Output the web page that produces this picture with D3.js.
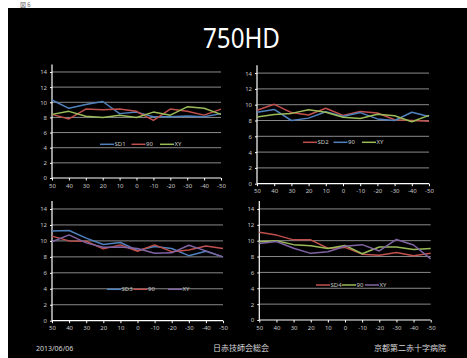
<!DOCTYPE html>
<html>
<head>
<meta charset="utf-8">
<script src="https://cdn.jsdelivr.net/npm/d3@7/dist/d3.min.js"></script>
<style>
  html, body { margin: 0; padding: 0; background: #fff; }
  svg { display: block; }
</style>
</head>
<body>
<svg id="chart" width="467" height="358"></svg>
<script>
// Shared category axis: angle positions from 50 down to -50
const categories = ["50", "40", "30", "20", "10", "0", "-10", "-20", "-30", "-40", "-50"];
const yTicks = [0, 2, 4, 6, 8, 10, 12, 14];

// Panel 1
const sd1 = [10.3, 9.2, 9.7, 10.1, 8.5, 8.7, 8.1, 8.1, 8.2, 8.1, 8.5];
const sd1_90 = [8.4, 7.8, 9.1, 9.0, 9.1, 8.8, 7.6, 9.1, 8.8, 8.3, 9.1];
const sd1_xy = [8.4, 8.8, 8.15, 8.0, 8.3, 8.0, 8.7, 8.3, 9.4, 9.2, 8.4];

// Panel 2
const sd2 = [9.3, 10.05, 9.0, 8.7, 9.55, 8.65, 9.15, 8.95, 8.1, 8.0, 7.9];
const sd2_90 = [9.05, 9.4, 8.0, 8.3, 9.1, 8.5, 9.0, 8.2, 8.0, 9.05, 8.5];
const sd2_xy = [8.45, 8.75, 8.9, 9.35, 9.05, 8.4, 8.25, 8.8, 8.6, 7.85, 8.65];

// Panel 3
const sd3 = [11.25, 11.3, 10.35, 9.55, 9.8, 8.8, 9.3, 9.05, 8.15, 8.7, 8.0];
const sd3_90 = [10.6, 10.0, 9.95, 9.0, 9.5, 8.7, 9.5, 8.65, 8.85, 9.35, 9.05];
const sd3_xy = [9.9, 10.75, 9.75, 9.2, 9.25, 9.05, 8.45, 8.5, 9.45, 8.75, 8.0];

// Panel 4
const sd4 = [11.05, 10.7, 10.1, 10.1, 9.05, 9.15, 8.3, 8.15, 8.5, 8.1, 8.4];
const sd4_90 = [9.85, 10.0, 9.5, 9.35, 9.0, 9.4, 8.35, 9.2, 9.2, 8.9, 9.0];
const sd4_xy = [9.65, 9.9, 9.05, 8.4, 8.6, 9.3, 9.5, 8.7, 10.15, 9.45, 7.7];

const titleText = "750HD";
const captionText = "図 6";
const footerLeft = "2013/06/06";
const footerCenter = "日赤技師会総会";
const footerRight = "京都第二赤十字病院";

const BLUE = "#4f81bd", RED = "#c0504d", GREEN = "#9bbb59", PURPLE = "#8064a2";

const panels = [
  { box: { left: 52, right: 221, top: 64.4, bottom: 178 }, legendY: 144.3, legendX: [100, 131.5, 160],
    series: [ { name: "SD1", values: sd1, color: BLUE }, { name: "90", values: sd1_90, color: RED }, { name: "XY", values: sd1_xy, color: GREEN } ] },
  { box: { left: 257, right: 429, top: 65.2, bottom: 183.7 }, legendY: 142.3, legendX: [303, 333.5, 362],
    series: [ { name: "SD2", values: sd2, color: RED }, { name: "90", values: sd2_90, color: BLUE }, { name: "XY", values: sd2_xy, color: GREEN } ] },
  { box: { left: 52, right: 223, top: 201, bottom: 320.7 }, legendY: 289.3, legendX: [107, 133.5, 168],
    series: [ { name: "SD3", values: sd3, color: BLUE }, { name: "90", values: sd3_90, color: RED }, { name: "XY", values: sd3_xy, color: PURPLE } ] },
  { box: { left: 259.3, right: 430.7, top: 201, bottom: 320 }, legendY: 285, legendX: [316, 342, 365],
    series: [ { name: "SD4", values: sd4, color: RED }, { name: "90", values: sd4_90, color: GREEN }, { name: "XY", values: sd4_xy, color: PURPLE } ] }
];

const svg = d3.select("#chart");

// slide background
svg.append("rect").attr("x", 8).attr("y", 8).attr("width", 459).attr("height", 350).attr("fill", "#000");

// figure caption in the white strip above the slide
svg.append("text").attr("x", 20).attr("y", 7.2)
  .attr("font-family", "Noto Sans CJK JP").attr("font-size", 6).attr("fill", "#666")
  .text(captionText);

// slide title
svg.append("text").attr("x", 241.5).attr("y", 48)
  .attr("text-anchor", "middle")
  .attr("font-family", "Noto Sans, Open Sans, sans-serif").attr("font-size", 27)
  .attr("textLength", 77).attr("lengthAdjust", "spacingAndGlyphs")
  .attr("fill", "#fff").text(titleText);

const LABEL = "#c8c8c8";
const FONT = "Noto Sans, DejaVu Sans, sans-serif";

panels.forEach(p => {
  const b = p.box;
  const x = d3.scalePoint().domain(categories).range([b.left, b.right]);
  const y = d3.scaleLinear().domain([0, 15]).range([b.bottom, b.top]);
  const g = svg.append("g");

  // horizontal gridlines
  g.selectAll("line.grid").data(yTicks.filter(t => t > 0)).join("line")
    .attr("x1", b.left).attr("x2", b.right)
    .attr("y1", d => y(d)).attr("y2", d => y(d))
    .attr("stroke", "#8a8a8a").attr("stroke-width", 1);

  // y axis
  const yAxis = d3.axisLeft(y).tickValues(yTicks).tickSize(2).tickPadding(3);
  const ya = g.append("g").attr("transform", `translate(${b.left},0)`).call(yAxis);
  ya.select(".domain").attr("stroke", "#fff").attr("stroke-width", 1.2)
    .attr("d", `M0,${b.bottom}V${b.top}`);
  ya.selectAll(".tick line").attr("stroke", "#fff");
  ya.selectAll(".tick text").attr("fill", LABEL).attr("font-size", 6).attr("font-family", FONT);

  // x axis
  const xAxis = d3.axisBottom(x).tickSize(2.5).tickPadding(3);
  const xa = g.append("g").attr("transform", `translate(0,${b.bottom})`).call(xAxis);
  xa.select(".domain").attr("stroke", "#fff").attr("stroke-width", 1.2)
    .attr("d", `M${b.left},0H${b.right}`);
  xa.selectAll(".tick line").attr("stroke", "#fff");
  xa.selectAll(".tick text").attr("fill", LABEL).attr("font-size", 6).attr("font-family", FONT);

  // series lines
  const line = d3.line().x((d, i) => x(categories[i])).y(d => y(d));
  p.series.forEach(s => {
    g.append("path").datum(s.values).attr("d", line)
      .attr("fill", "none").attr("stroke", s.color).attr("stroke-width", 1.5)
      .attr("stroke-linejoin", "round");
  });

  // legend
  p.series.forEach((s, i) => {
    const lx = p.legendX[i];
    g.append("line").attr("x1", lx).attr("x2", lx + 14)
      .attr("y1", p.legendY).attr("y2", p.legendY)
      .attr("stroke", s.color).attr("stroke-width", 1.5);
    g.append("text").attr("x", lx + 14.5).attr("y", p.legendY).attr("dy", "0.35em")
      .attr("fill", LABEL).attr("font-size", 6).attr("font-family", FONT).text(s.name);
  });
});

// footer
const footY = 350.5;
svg.append("text").attr("x", 36).attr("y", footY)
  .attr("font-family", FONT).attr("font-size", 7).attr("fill", "#d9d9d9").text(footerLeft);
svg.append("text").attr("x", 241).attr("y", footY).attr("text-anchor", "middle")
  .attr("font-family", "Noto Sans CJK JP").attr("font-size", 8).attr("fill", "#d9d9d9").text(footerCenter);
svg.append("text").attr("x", 410).attr("y", footY).attr("text-anchor", "middle")
  .attr("font-family", "Noto Sans CJK JP").attr("font-size", 8).attr("fill", "#d9d9d9").text(footerRight);
</script>
</body>
</html>
